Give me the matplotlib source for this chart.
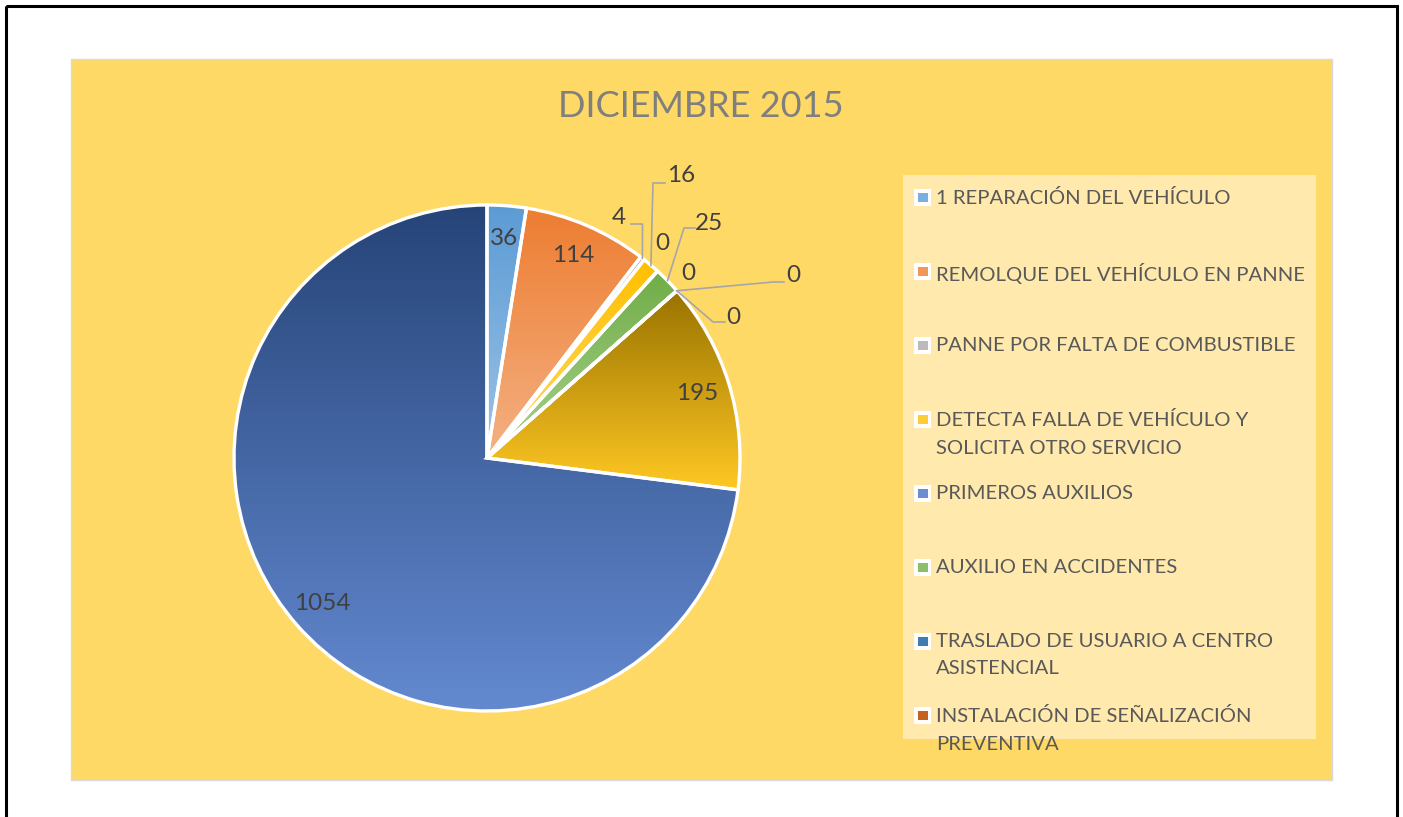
import matplotlib.pyplot as plt
import numpy as np
from matplotlib.patches import Rectangle
from matplotlib.colors import to_rgb

plt.rcParams['font.family'] = ['Lato', 'DejaVu Sans']

# datos del grafico (diciembre 2015)
categorias = ['1 REPARACIÓN DEL VEHÍCULO',
              'REMOLQUE DEL VEHÍCULO EN PANNE',
              'PANNE POR FALTA DE COMBUSTIBLE',
              'DETECTA FALLA DE VEHÍCULO Y\nSOLICITA OTRO SERVICIO',
              'PRIMEROS AUXILIOS',
              'AUXILIO EN ACCIDENTES',
              'TRASLADO DE USUARIO A CENTRO\nASISTENCIAL',
              'INSTALACIÓN DE SEÑALIZACIÓN\nPREVENTIVA',
              'SERIE 9', 'SERIE 10', 'SERIE 11']
valores = [36, 114, 4, 16, 0, 25, 0, 0, 0, 195, 1054]

# degradado: color arriba, color abajo
col_arriba = ['#5b9bd5', '#ed7d31', '#a5a5a5', '#ffc000', '#4472c4', '#70ad47',
              '#255e91', '#9e480e', '#636363', '#997300', '#264478']
col_abajo = ['#9dc3e6', '#f4b183', '#d0d0d0', '#ffd966', '#8faadc', '#a9d18e',
             '#5b9bd5', '#ed7d31', '#a5a5a5', '#ffc823', '#6389d0']

W, H = 1403, 817
fig = plt.figure(figsize=(W / 100, H / 100), dpi=100)

# fondo, marco y caja de leyenda en pixeles
bg = fig.add_axes([0, 0, 1, 1], zorder=0)
bg.set_xlim(0, W)
bg.set_ylim(H, 0)
bg.axis('off')
bg.add_patch(Rectangle((6, 6), 1391, 830, fill=False, edgecolor='black', linewidth=2.2))
bg.add_patch(Rectangle((71, 59), 1261, 721, facecolor='#ffd966', edgecolor='#d9d9d9', linewidth=1))
bg.add_patch(Rectangle((903, 175), 413, 564, facecolor='#ffe9ad', edgecolor='none'))
bg.text(701, 106, 'DICIEMBRE 2015', fontsize=26, color='#7f7f7f', ha='center', va='center')

# leyenda (solo caben 8 entradas)
for i in range(8):
    y = 197 + 74 * i
    bg.add_patch(Rectangle((914, y - 8.5), 17, 17, facecolor='white', edgecolor='none'))
    c = (np.array(to_rgb(col_arriba[i])) + np.array(to_rgb(col_abajo[i]))) / 2
    bg.add_patch(Rectangle((918, y - 4.5), 9.5, 9.5, facecolor=c, edgecolor='none'))
    bg.text(936, y - 8, categorias[i], fontsize=14.6, color='#595959', ha='left', va='top',
            linespacing=1.75)

# torta
cx, cy, rpx = 487, 458, 253
half = 300
ax = fig.add_axes([(cx - half) / W, (H - cy - half) / H, 2 * half / W, 2 * half / H], zorder=1)
ax.patch.set_visible(False)

wedges, _ = ax.pie(valores, startangle=90, counterclock=False, radius=1,
                   wedgeprops=dict(edgecolor='white', linewidth=2.4, facecolor='none'))

for w, c0, c1 in zip(wedges, col_arriba, col_abajo):
    w.set_facecolor('none')
    w.set_zorder(3)
    if w.theta2 - w.theta1 <= 0:
        continue
    bb = w.get_path().get_extents()
    t = np.linspace(0, 1, 256)[:, None, None]
    img = (1 - t) * np.array(to_rgb(c0)) + t * np.array(to_rgb(c1))
    im = ax.imshow(img, extent=(bb.x0, bb.x1, bb.y0, bb.y1), origin='upper',
                   aspect='auto', zorder=2, interpolation='bilinear')
    im.set_clip_path(w)

lim = half / rpx
ax.set_xlim(-lim, lim)
ax.set_ylim(-lim, lim)
ax.axis('off')


def pd(px, py):
    return (px - cx) / rpx, (cy - py) / rpx


# etiquetas internas
for w, v in zip(wedges, valores):
    if v >= 30:
        a = np.deg2rad((w.theta1 + w.theta2) / 2)
        ax.text(0.87 * np.cos(a), 0.87 * np.sin(a), str(v), fontsize=17.5, color='#404040',
                ha='center', va='center', zorder=5)

# etiquetas externas: posicion del texto y quiebre de la linea guia
externas = {
    2: ((619, 218), [(631, 224), (642.5, 224)]),
    3: ((681, 176), [(665, 183), (653, 183)]),
    4: ((662, 243), []),
    5: ((709, 223), [(695, 228), (684, 228)]),
    6: ((688, 273), []),
    7: ((793, 275), [(784, 282), (773, 282)]),
    8: ((733, 317), [(725, 322), (713, 322)]),
}
for i, (pos, guia) in externas.items():
    w = wedges[i]
    ax.text(*pd(*pos), str(valores[i]), fontsize=17.5, color='#404040',
            ha='center', va='center', zorder=5)
    if guia:
        a = np.deg2rad((w.theta1 + w.theta2) / 2)
        pts = [pd(*p) for p in guia] + [(np.cos(a), np.sin(a))]
        xs, ys = zip(*pts)
        ax.plot(xs, ys, color='#a6a6a6', linewidth=1.2, zorder=4)

fig.savefig('out.png', dpi=100)
